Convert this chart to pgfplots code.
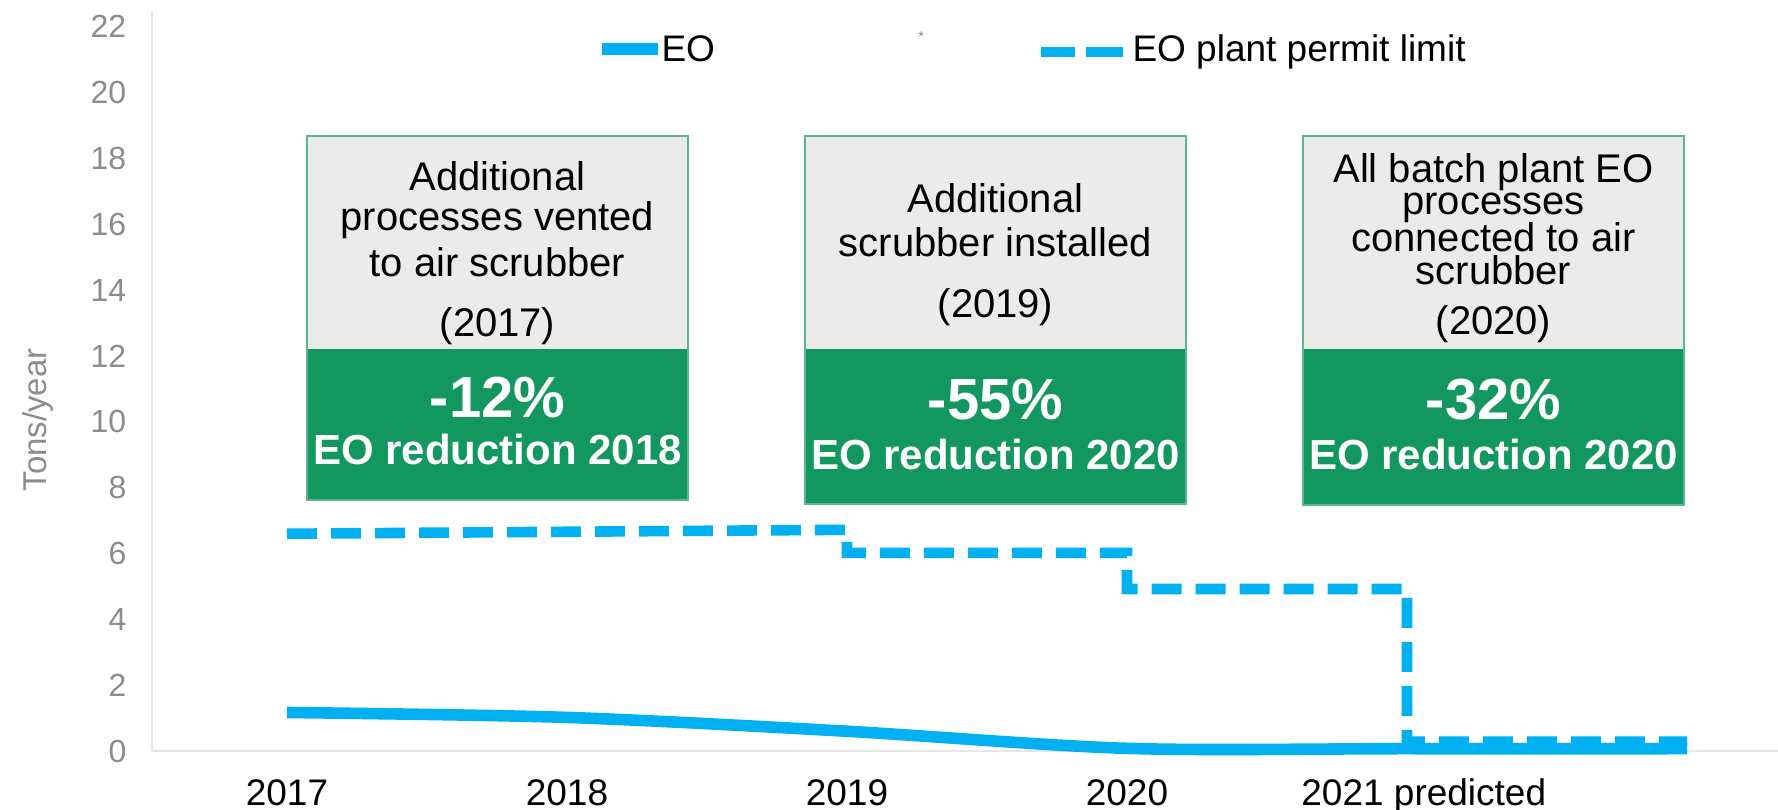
\documentclass[border=0pt]{standalone}
\usepackage{fontspec}
\setmainfont{Liberation Sans}
\usepackage{pgfplots}
\pgfplotsset{compat=1.18}
\definecolor{eoblue}{HTML}{00B0F0}
\definecolor{boxgreen}{HTML}{12975F}
\definecolor{boxgray}{HTML}{EBEBEB}
\definecolor{axgray}{HTML}{E6E6E6}
\definecolor{tickgray}{HTML}{8C8C8C}
\begin{document}
\begin{tikzpicture}
\begin{axis}[
  at={(0,0)}, anchor=south west,
  scale only axis, width=812.85bp, height=369.5bp,
  xmin=-0.481, xmax=5.325, ymin=0, ymax=22.45,
  axis x line*=bottom, axis y line*=left,
  axis line style={draw=axgray, line width=1bp},
  major tick length=0pt,
  xtick={0,1,2,3,4.06}, xticklabels={2017,2018,2019,2020,2021 predicted},
  ytick={0,2,...,22},
  /pgf/number format/assume math mode=true,
  xticklabel style={font=\fontsize{18.5bp}{20bp}\selectfont, anchor=base, yshift=-27bp, inner sep=0pt},
  yticklabel style={font=\fontsize{16bp}{18bp}\selectfont, text=tickgray, anchor=east, inner sep=0pt, xshift=-12.8bp},
  clip=false,
]
\addplot[eoblue, line width=5.8bp, smooth, tension=0.5] coordinates {(0,1.17) (1,1.02) (2,0.6) (3,0.08) (4,0.07) (5,0.07)};
\addplot[eoblue, line width=5.3bp, dash pattern=on 15bp off 7bp, line join=miter] coordinates {(0,6.6) (2,6.72) (2,6.02) (3,6.02) (3,4.92) (4,4.92) (4,0.28) (5,0.28)};
\end{axis}
% annotation boxes
\fill[boxgray] (77.35bp,201bp) rectangle (267.85bp,307.5bp);
\fill[boxgreen] (77.35bp,125.5bp) rectangle (267.85bp,201bp);
\draw[boxgreen!70, line width=0.6bp] (77.35bp,125.5bp) rectangle (267.85bp,307.5bp);
\fill[boxgray] (326.35bp,201bp) rectangle (516.85bp,307.5bp);
\fill[boxgreen] (326.35bp,123.5bp) rectangle (516.85bp,201bp);
\draw[boxgreen!70, line width=0.6bp] (326.35bp,123.5bp) rectangle (516.85bp,307.5bp);
\fill[boxgray] (575.35bp,201bp) rectangle (765.85bp,307.5bp);
\fill[boxgreen] (575.35bp,123bp) rectangle (765.85bp,201bp);
\draw[boxgreen!70, line width=0.6bp] (575.35bp,123bp) rectangle (765.85bp,307.5bp);
\tikzset{bt/.style={anchor=base, inner sep=0pt, font=\fontsize{20bp}{20bp}\selectfont},
  bp/.style={anchor=base, inner sep=0pt, text=white, font=\fontsize{29bp}{29bp}\selectfont\bfseries},
  br/.style={anchor=base, inner sep=0pt, text=white, font=\fontsize{21bp}{21bp}\selectfont\bfseries}}
\node[bt] at (172.6bp,280bp) {Additional};
\node[bt] at (172.6bp,260bp) {processes vented};
\node[bt] at (172.6bp,237bp) {to air scrubber};
\node[bt] at (172.6bp,207bp) {(2017)};
\node[bp] at (172.6bp,166.5bp) {-12\%};
\node[br] at (172.6bp,143bp) {EO reduction 2018};
\node[bt] at (421.6bp,269bp) {Additional};
\node[bt] at (421.6bp,247bp) {scrubber installed};
\node[bt] at (421.6bp,216.5bp) {(2019)};
\node[bp] at (421.6bp,165.5bp) {-55\%};
\node[br] at (421.6bp,140.5bp) {EO reduction 2020};
\node[bt] at (670.6bp,284bp) {All batch plant EO};
\node[bt] at (670.6bp,268bp) {processes};
\node[bt] at (670.6bp,249.5bp) {connected to air};
\node[bt] at (670.6bp,233bp) {scrubber};
\node[bt] at (670.6bp,208bp) {(2020)};
\node[bp] at (670.6bp,165.5bp) {-32\%};
\node[br] at (670.6bp,140.5bp) {EO reduction 2020};
% legend
\draw[eoblue, line width=5.8bp] (224.7bp,351bp) -- (252.6bp,351bp);
\node[anchor=base west, inner sep=0pt, font=\fontsize{18.5bp}{20bp}\selectfont] at (254.4bp,344.5bp) {EO};
\node[text=gray, inner sep=0pt, font=\fontsize{7bp}{8bp}\selectfont] at (384.4bp,357bp) {*};
\draw[eoblue, line width=5.3bp] (444.4bp,349.5bp) -- (461.5bp,349.5bp);
\draw[eoblue, line width=5.3bp] (467bp,349.5bp) -- (485.4bp,349.5bp);
\node[anchor=base west, inner sep=0pt, font=\fontsize{18.5bp}{20bp}\selectfont] at (489.9bp,344.5bp) {EO plant permit limit};
% y label
\node[rotate=90, text=tickgray, inner sep=0pt, font=\fontsize{16.5bp}{18bp}\selectfont] at (-57bp,165.5bp) {Tons/year};
\pgfresetboundingbox
\path[use as bounding box] (-76.15bp,-29.5bp) rectangle (812.85bp,375.5bp);
\end{tikzpicture}
\end{document}
